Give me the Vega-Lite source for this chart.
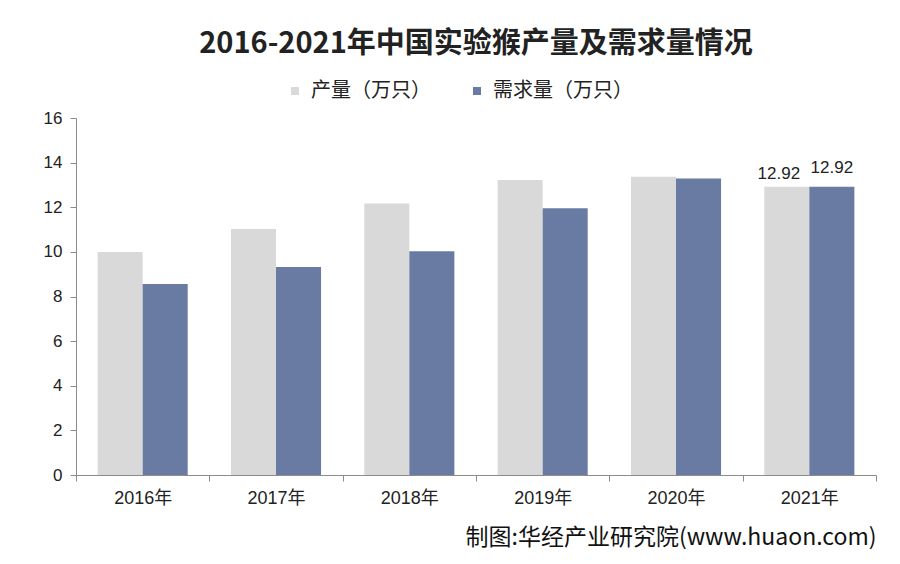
{
  "$schema": "https://vega.github.io/schema/vega-lite/v6.json",
  "autosize": {"type": "none"},
  "padding": {"left": 76, "top": 118, "right": 24, "bottom": 89},
  "width": 800,
  "height": 357,
  "title": {
    "text": "2016-2021年中国实验猴产量及需求量情况",
    "font": "Noto Sans CJK SC",
    "fontSize": 29,
    "fontWeight": "bold",
    "color": "#222222",
    "anchor": "middle",
    "offset": 22
  },
  "data": {
    "values": [
      {"year": "2016年", "series": "产量（万只）", "value": 10.0},
      {"year": "2016年", "series": "需求量（万只）", "value": 8.56},
      {"year": "2017年", "series": "产量（万只）", "value": 11.03},
      {"year": "2017年", "series": "需求量（万只）", "value": 9.32},
      {"year": "2018年", "series": "产量（万只）", "value": 12.17},
      {"year": "2018年", "series": "需求量（万只）", "value": 10.03},
      {"year": "2019年", "series": "产量（万只）", "value": 13.22},
      {"year": "2019年", "series": "需求量（万只）", "value": 11.95},
      {"year": "2020年", "series": "产量（万只）", "value": 13.37},
      {"year": "2020年", "series": "需求量（万只）", "value": 13.29},
      {"year": "2021年", "series": "产量（万只）", "value": 12.92},
      {"year": "2021年", "series": "需求量（万只）", "value": 12.92}
    ]
  },
  "encoding": {
    "x": {
      "field": "year",
      "type": "nominal",
      "scale": {"paddingInner": 0, "paddingOuter": 0},
      "axis": {
        "title": "制图:华经产业研究院(www.huaon.com)",
        "titleAnchor": "end",
        "titleAlign": "right",
        "titleFont": "Noto Sans CJK SC",
        "titleFontSize": 23,
        "titleFontWeight": "normal",
        "titleColor": "#111111",
        "titlePadding": 19,
        "tickBand": "extent",
        "labelAngle": 0,
        "labelPadding": 8,
        "labelFontSize": 18
      }
    },
    "xOffset": {
      "field": "series",
      "type": "nominal",
      "sort": ["产量（万只）", "需求量（万只）"],
      "scale": {"paddingInner": 0, "paddingOuter": 0.48}
    },
    "y": {
      "field": "value",
      "type": "quantitative",
      "scale": {"domain": [0, 16]},
      "axis": {
        "title": null,
        "values": [0, 2, 4, 6, 8, 10, 12, 14, 16],
        "grid": false,
        "labelFontSize": 17,
        "labelPadding": 8
      }
    }
  },
  "layer": [
    {
      "mark": {"type": "bar"},
      "encoding": {
        "color": {
          "field": "series",
          "type": "nominal",
          "scale": {
            "domain": ["产量（万只）", "需求量（万只）"],
            "range": ["#D9D9D9", "#6A7BA3"]
          },
          "legend": {
            "title": null,
            "orient": "none",
            "legendX": 209,
            "legendY": -37,
            "padding": 0,
            "direction": "horizontal",
            "symbolType": "square",
            "symbolSize": 64,
            "symbolStrokeWidth": 0,
            "labelFontSize": 20,
            "labelFont": "Noto Sans CJK SC",
            "labelColor": "#222222",
            "labelOffset": 6,
            "columnPadding": 36
          }
        }
      }
    },
    {
      "transform": [{"filter": "datum.year == '2021年' && datum.series == '产量（万只）'"}],
      "mark": {
        "type": "text",
        "baseline": "bottom",
        "dx": -8,
        "dy": -4,
        "fontSize": 17,
        "font": "Liberation Sans",
        "color": "#222222"
      },
      "encoding": {
        "text": {"field": "value", "type": "quantitative", "format": ".2f"}
      }
    },
    {
      "transform": [{"filter": "datum.year == '2021年' && datum.series == '需求量（万只）'"}],
      "mark": {
        "type": "text",
        "baseline": "bottom",
        "dy": -10,
        "fontSize": 17,
        "font": "Liberation Sans",
        "color": "#222222"
      },
      "encoding": {
        "text": {"field": "value", "type": "quantitative", "format": ".2f"}
      }
    }
  ],
  "config": {
    "view": {"stroke": null},
    "axis": {
      "domainColor": "#8C8C8C",
      "tickColor": "#8C8C8C",
      "tickSize": 6,
      "labelFont": "Liberation Sans, Noto Sans CJK SC",
      "labelColor": "#222222"
    }
  }
}
